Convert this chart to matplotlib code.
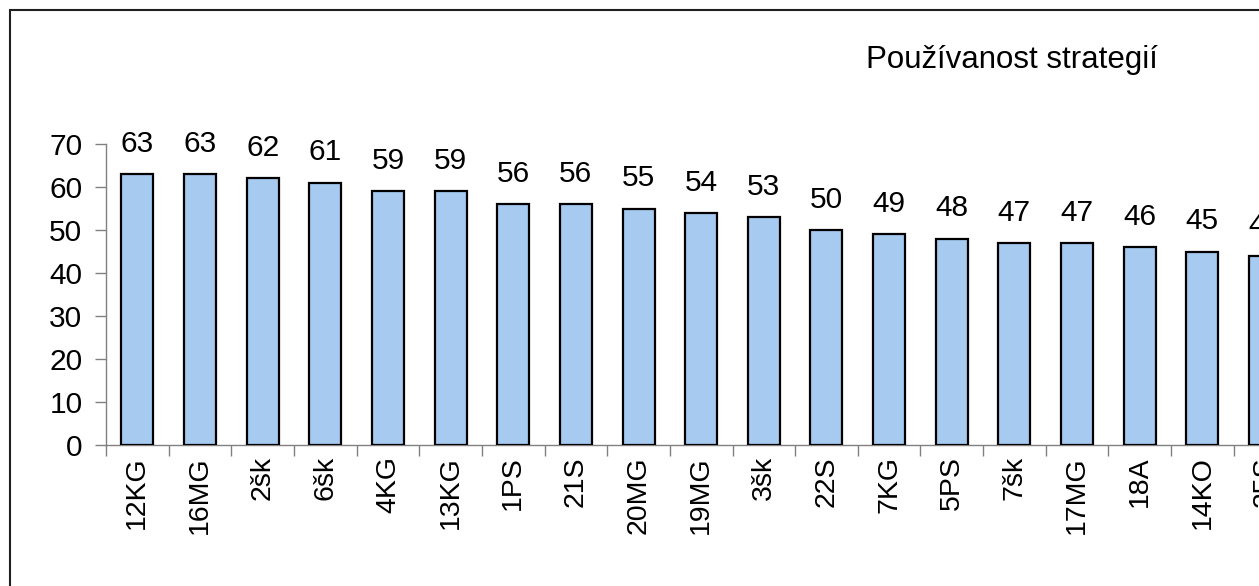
import matplotlib
matplotlib.use("Agg")
import matplotlib.pyplot as plt
from matplotlib.patches import Rectangle

categories = ["12KG", "16MG", "2šk", "6šk", "4KG", "13KG", "1PS", "21S", "20MG", "19MG",
              "3šk", "22S", "7KG", "5PS", "7šk", "17MG", "18A", "14KO", "25S"]
values = [63, 63, 62, 61, 59, 59, 56, 56, 55, 54, 53, 50, 49, 48, 47, 47, 46, 45, 44]
title = "Používanost strategií"

plt.rcParams['font.family'] = ['Liberation Sans', 'DejaVu Sans']

W, H = 1259, 586
fig = plt.figure(figsize=(W / 100, H / 100), dpi=100)

unit = 62.65
n_slots = 20
left_px, bottom_px, top_px = 106, 445, 144
ax = fig.add_axes([left_px / W, (H - bottom_px) / H, n_slots * unit / W, (bottom_px - top_px) / H])

x = list(range(len(categories)))
ax.bar(x, values, width=0.51, color="#A6CAF0", edgecolor="black", linewidth=1.6, zorder=3)
for xi, v in zip(x, values):
    ax.annotate(str(v), (xi, v), xytext=(0, 16), textcoords="offset points",
                ha="center", va="baseline", fontsize=21.5)

ax.set_xlim(-0.5, n_slots - 0.5)
ax.set_ylim(0, 70)
ax.set_yticks(range(0, 71, 10))
ax.tick_params(axis="y", labelsize=21.5, length=8, width=1, color="#808080", direction="out", pad=9)
ax.set_xticks(x)
ax.set_xticklabels(categories, rotation=90, fontsize=20.5)
ax.set_xticks([i - 0.5 for i in range(n_slots + 1)], minor=True)
ax.tick_params(axis="x", which="major", length=0, pad=8)
ax.tick_params(axis="x", which="minor", length=8, width=1, color="#808080", direction="out")
for s in ["top", "right"]:
    ax.spines[s].set_visible(False)
for s in ["left", "bottom"]:
    ax.spines[s].set_color("#808080")
    ax.spines[s].set_linewidth(1)

fig.text(866 / W, 1 - 45 / H, title, fontsize=22.5, ha="left", va="top")

fig.patches.append(Rectangle((9.5 / W, -0.1), 1.2, 1 - 9.5 / H + 0.1, transform=fig.transFigure,
                             fill=False, edgecolor="#202020", linewidth=1.5, zorder=10))

fig.savefig("out.png", dpi=100)
